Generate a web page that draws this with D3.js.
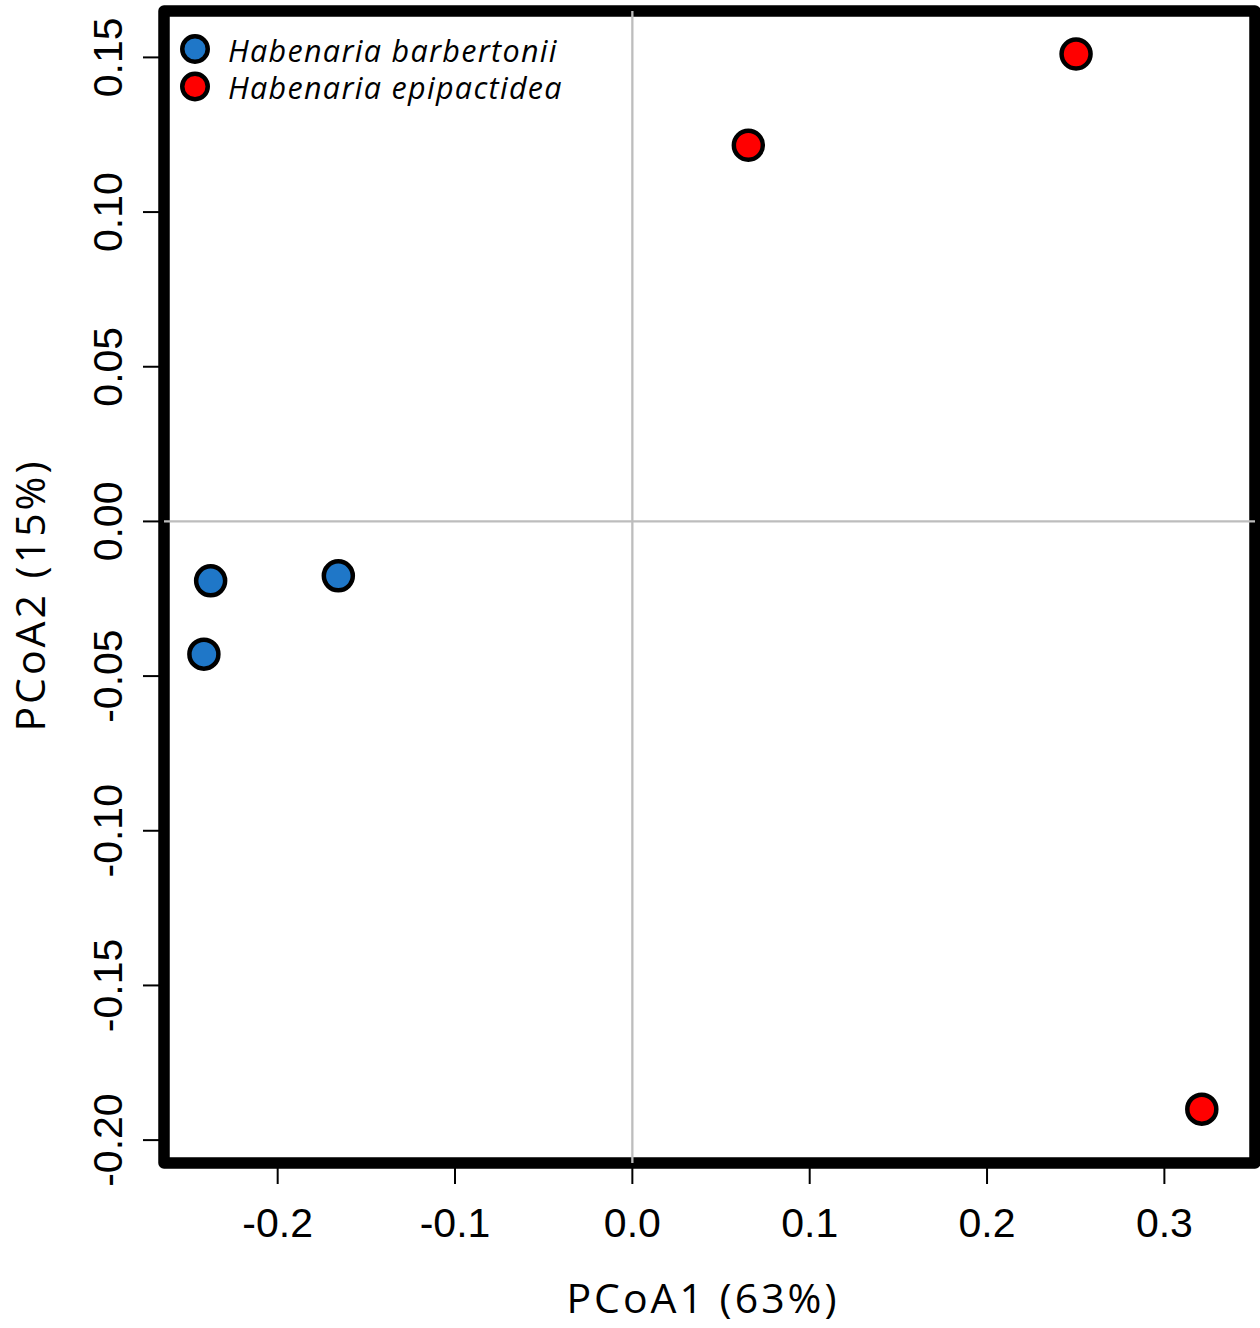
<!DOCTYPE html>
<html>
<head>
<meta charset="utf-8">
<script src="https://d3js.org/d3.v7.min.js"></script>
<style>
  body { margin: 0; background: #ffffff; }
  .tick-label { font-family: "Liberation Sans", Arial, sans-serif; font-size: 41px; fill: #000; }
  .axis-title { font-family: "Open Sans", sans-serif; font-size: 41px; fill: #000; letter-spacing: 3px; }
  .legend-text { font-family: "Open Sans", sans-serif; font-style: italic; font-size: 30.5px; fill: #000; letter-spacing: 1.3px; }
</style>
</head>
<body>
<div id="chart"></div>
<script>
// species groups and PCoA scores
var species = ["Habenaria barbertonii", "Habenaria epipactidea"];
var colors = ["#1f77c8", "#ff0000"];

var barbertoniiX = [-0.2378, -0.1658, -0.2416];
var barbertoniiY = [-0.0192, -0.0176, -0.0429];
var epipactideaX = [0.0654, 0.2502, 0.3211];
var epipactideaY = [0.1216, 0.1511, -0.1900];

var xTicks = [-0.2, -0.1, 0.0, 0.1, 0.2, 0.3];
var yTicks = [0.15, 0.10, 0.05, 0.00, -0.05, -0.10, -0.15, -0.20];

var xTitle = "PCoA1 (63%)";
var yTitle = "PCoA2 (15%)";

var W = 1260, H = 1328;
var pLeft = 164, pRight = 1255, pTop = 11, pBottom = 1163;

var svg = d3.select("#chart").append("svg")
    .attr("width", W).attr("height", H);

var x = d3.scaleLinear().domain([-0.2641, 0.3511]).range([pLeft, pRight]);
var y = d3.scaleLinear().domain([-0.2074, 0.1650]).range([pBottom, pTop]);

// plain hyphen like R does
function fmt(spec) {
  var f = d3.format(spec);
  return function(d) { return f(d).replace("\u2212", "-"); };
}

var points = [];
barbertoniiX.forEach(function(v, i) { points.push({x: v, y: barbertoniiY[i], g: 0}); });
epipactideaX.forEach(function(v, i) { points.push({x: v, y: epipactideaY[i], g: 1}); });

// box
svg.append("rect")
    .attr("x", pLeft).attr("y", pTop)
    .attr("width", pRight - pLeft).attr("height", pBottom - pTop)
    .attr("fill", "none")
    .attr("stroke", "#000")
    .attr("stroke-width", 11.5)
    .attr("stroke-linejoin", "round");

// zero lines
svg.append("line")
    .attr("x1", x(0)).attr("x2", x(0))
    .attr("y1", pTop).attr("y2", pBottom)
    .attr("stroke", "#bdbdbd").attr("stroke-width", 2.3);
svg.append("line")
    .attr("x1", pLeft).attr("x2", pRight)
    .attr("y1", y(0)).attr("y2", y(0))
    .attr("stroke", "#bdbdbd").attr("stroke-width", 2.3);

// x axis
var xg = svg.append("g");
xg.selectAll("line").data(xTicks).enter().append("line")
    .attr("x1", function(d) { return x(d); })
    .attr("x2", function(d) { return x(d); })
    .attr("y1", pBottom).attr("y2", pBottom + 21)
    .attr("stroke", "#000").attr("stroke-width", 2);
xg.selectAll("text").data(xTicks).enter().append("text")
    .attr("class", "tick-label")
    .attr("x", function(d) { return x(d); })
    .attr("y", 1237)
    .attr("text-anchor", "middle")
    .text(fmt(".1f"));

// y axis
var yg = svg.append("g");
yg.selectAll("line").data(yTicks).enter().append("line")
    .attr("x1", pLeft).attr("x2", pLeft - 21)
    .attr("y1", function(d) { return y(d); })
    .attr("y2", function(d) { return y(d); })
    .attr("stroke", "#000").attr("stroke-width", 2);
yg.selectAll("text").data(yTicks).enter().append("text")
    .attr("class", "tick-label")
    .attr("transform", function(d) { return "translate(122," + y(d) + ") rotate(-90)"; })
    .attr("text-anchor", "middle")
    .text(fmt(".2f"));

// titles
svg.append("text")
    .attr("class", "axis-title")
    .attr("x", 703).attr("y", 1313)
    .attr("text-anchor", "middle")
    .text(xTitle);
svg.append("text")
    .attr("class", "axis-title")
    .attr("transform", "translate(45,595) rotate(-90)")
    .attr("text-anchor", "middle")
    .text(yTitle);

// points
svg.append("g").selectAll("circle").data(points).enter().append("circle")
    .attr("cx", function(d) { return x(d.x); })
    .attr("cy", function(d) { return y(d.y); })
    .attr("r", 14.5)
    .attr("fill", function(d) { return colors[d.g]; })
    .attr("stroke", "#000")
    .attr("stroke-width", 4.5);

// legend
var lg = svg.append("g");
species.forEach(function(s, i) {
  var cy = 49 + i * 37.5;
  lg.append("circle")
      .attr("cx", 195).attr("cy", cy).attr("r", 12.75)
      .attr("fill", colors[i]).attr("stroke", "#000").attr("stroke-width", 4.5);
  lg.append("text")
      .attr("class", "legend-text")
      .attr("x", 228).attr("y", cy + 12.5)
      .text(s);
});
</script>
</body>
</html>
